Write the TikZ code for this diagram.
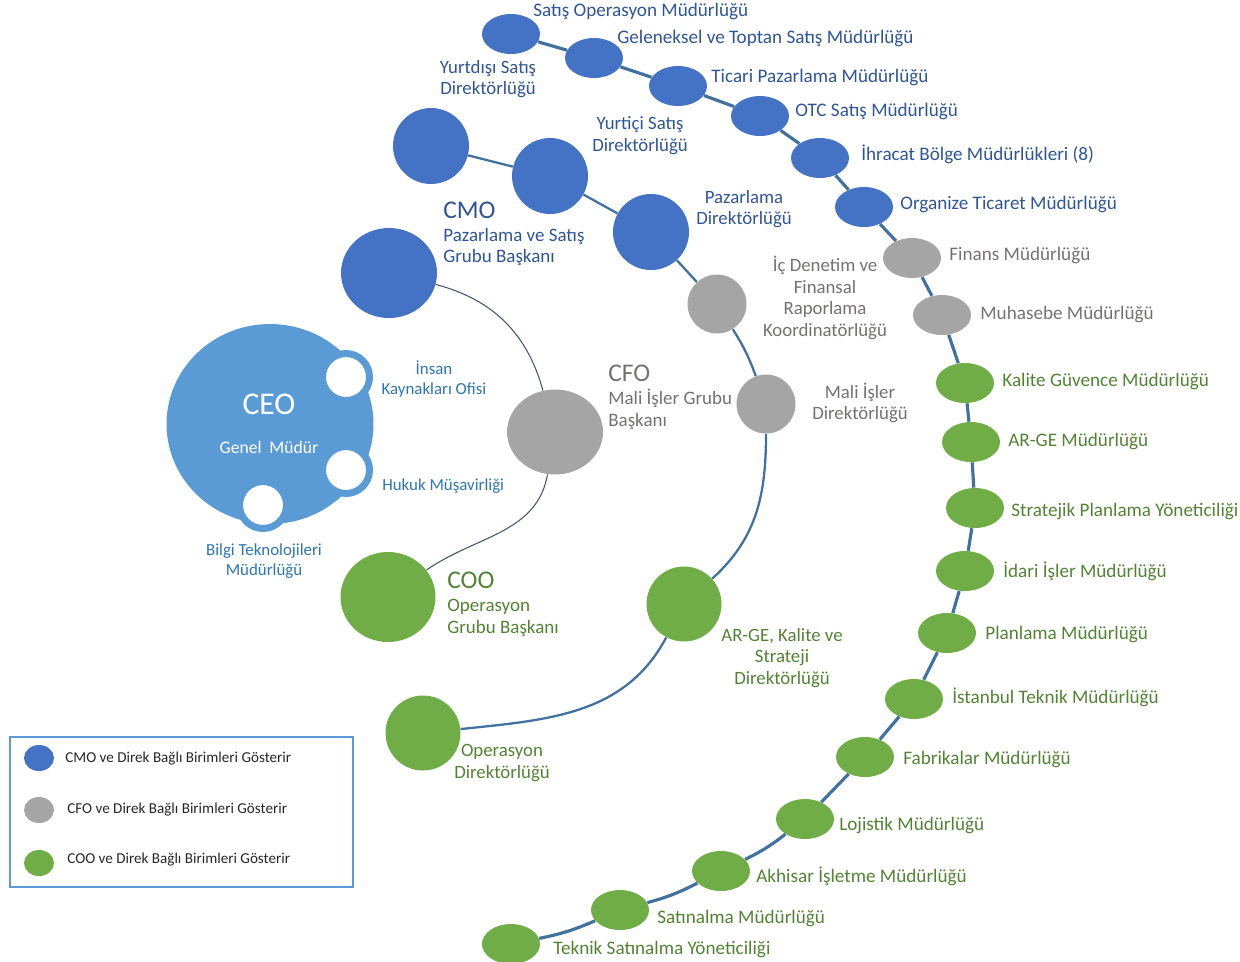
\documentclass[tikz,border=0pt]{standalone}
\usepackage{fontspec}
\setmainfont{Carlito}
\usetikzlibrary{shapes.geometric,positioning}

\definecolor{cmoblue}{HTML}{4472C4}
\definecolor{cfogray}{HTML}{A5A5A5}
\definecolor{coogreen}{HTML}{70AD47}
\definecolor{ceoblue}{HTML}{5B9BD5}
\definecolor{linkblue}{HTML}{41719C}
\definecolor{thinline}{HTML}{44546A}
\definecolor{cmotext}{HTML}{2F5597}
\definecolor{cfotext}{HTML}{767171}
\definecolor{cootext}{HTML}{548235}
\definecolor{ceotext}{HTML}{2E75B6}

\begin{document}
\begin{tikzpicture}[x=0.02cm,y=-0.02cm,
  unit/.style={ellipse,inner sep=0pt,minimum width=1.16cm,minimum height=0.8cm},
  dept/.style={circle,inner sep=0pt,minimum size=#1},
  dept/.default=1.52cm,
  head/.style={ellipse,inner sep=0pt,minimum width=1.92cm,minimum height=1.8cm},
  ring/.style={circle,fill=white,draw=ceoblue,line width=0.14cm,minimum size=0.94cm,inner sep=0pt},
  unitlabel/.style={anchor=west,inner sep=0pt,text height=1.5ex,text depth=.25ex,font=\fontsize{10.9}{12.5}\selectfont},
  deptlabel/.style={align=center,inner sep=0pt,font=\fontsize{10.7}{12.4}\selectfont},
  headtitle/.style={anchor=west,inner sep=0pt,font=\fontsize{14.5}{16}\selectfont},
  headsub/.style={anchor=west,align=left,inner sep=0pt,font=\fontsize{10.8}{12.4}\selectfont},
  ceolabel/.style={text=ceotext,inner sep=0pt,font=\fontsize{9.6}{11}\selectfont},
  legendtext/.style={anchor=west,inner sep=0pt,text=black!85,font=\fontsize{8.6}{10}\selectfont},
  link/.style={draw=linkblue,line width=1.8pt},
  sublink/.style={draw=linkblue,line width=1.3pt},
  thinlink/.style={draw=thinline,line width=0.6pt}]

\useasboundingbox (0,0) rectangle (1240,961);

% CEO and its offices
\node[ellipse,fill=ceoblue,minimum width=4.14cm,minimum height=4cm,inner sep=0pt] (ceo) at (270,424) {};
\node[text=white,inner sep=0pt,font=\fontsize{18}{20}\selectfont] (ceotitle) at (269,404) {CEO};
\node[text=white,inner sep=0pt,font=\fontsize{10}{12}\selectfont] (ceosub) at (269,447) {Genel\ \ Müdür};
\node[ring] (ik) at (346,377) {};
\node[ring] (hukuk) at (346,470) {};
\node[ring] (bilgi) at (263,505) {};
\node[ceolabel,align=center] (iklabel) at (434,379) {İnsan\\Kaynakları Ofisi};
\node[ceolabel,anchor=west,text height=1.5ex,text depth=.25ex] (hukuklabel) at (382,485) {Hukuk Müşavirliği};
\node[ceolabel,align=center] (bilgilabel) at (264,561) {Bilgi Teknolojileri\\Müdürlüğü};

% group heads
\node[head,fill=cmoblue] (cmo) at (389,273) {};
\node[head,fill=cfogray,minimum height=1.7cm] (cfo) at (555,432) {};
\node[head,fill=coogreen,minimum width=1.9cm,minimum height=1.8cm] (coo) at (388,597) {};
\node[headtitle,text=cmotext] (cmotitle) at (443,210) {CMO};
\node[headsub,text=cmotext] (cmosub) at (443,247) {Pazarlama ve Satış\\Grubu Başkanı};
\node[headtitle,text=cfotext] (cfotitle) at (608,373) {CFO};
\node[headsub,text=cfotext] (cfosub) at (608,409) {Mali İşler Grubu\\Başkanı};
\node[headtitle,text=cootext] (cootitle) at (447,580) {COO};
\node[headsub,text=cootext] (coosub) at (447,618) {Operasyon\\Grubu Başkanı};

% directorates
\node[dept,fill=cmoblue] (yds) at (431,146) {};
\node[dept,fill=cmoblue] (yic) at (550,176) {};
\node[dept,fill=cmoblue] (pzd) at (651,232) {};
\node[dept=1.18cm,fill=cfogray] (icd) at (717,304) {};
\node[dept=1.18cm,fill=cfogray] (mid) at (766,404) {};
\node[dept=1.5cm,fill=coogreen] (akd) at (684,604) {};
\node[dept=1.5cm,fill=coogreen] (opd) at (423,733) {};
\node[deptlabel,text=cmotext] (ydslabel) at (488,79) {Yurtdışı Satış\\Direktörlüğü};
\node[deptlabel,text=cmotext] (yiclabel) at (640,136) {Yurtiçi Satış\\Direktörlüğü};
\node[deptlabel,text=cmotext] (pzdlabel) at (744,209) {Pazarlama\\Direktörlüğü};
\node[deptlabel,text=cfotext] (icdlabel) at (825,298) {İç Denetim ve\\Finansal\\Raporlama\\Koordinatörlüğü};
\node[deptlabel,text=cfotext] (midlabel) at (860,403) {Mali İşler\\Direktörlüğü};
\node[deptlabel,text=cootext] (akdlabel) at (782,658) {AR-GE, Kalite ve\\Strateji\\Direktörlüğü};
\node[deptlabel,text=cootext] (opdlabel) at (502,763) {Operasyon\\Direktörlüğü};

% units
\node[unit,fill=cmoblue] (sop) at (511,34) {};
\node[unit,fill=cmoblue] (glt) at (594,58) {};
\node[unit,fill=cmoblue] (tic) at (678,86) {};
\node[unit,fill=cmoblue] (otc) at (760,116) {};
\node[unit,fill=cmoblue] (ihr) at (820,158) {};
\node[unit,fill=cmoblue] (org) at (864,207) {};
\node[unit,fill=cfogray] (fin) at (912,258) {};
\node[unit,fill=cfogray] (muh) at (942,315) {};
\node[unit,fill=coogreen] (kal) at (965,383) {};
\node[unit,fill=coogreen] (arg) at (971,442) {};
\node[unit,fill=coogreen] (str) at (975,508) {};
\node[unit,fill=coogreen] (ida) at (965,571) {};
\node[unit,fill=coogreen] (pla) at (947,633) {};
\node[unit,fill=coogreen] (ist) at (914,699) {};
\node[unit,fill=coogreen] (fab) at (865,757) {};
\node[unit,fill=coogreen] (loj) at (805,819) {};
\node[unit,fill=coogreen] (akh) at (721,871) {};
\node[unit,fill=coogreen] (sat) at (620,910) {};
\node[unit,fill=coogreen] (tek) at (511,944) {};

\node[unitlabel,text=cmotext] (soplabel) at (533,11) {Satış Operasyon Müdürlüğü};
\node[unitlabel,text=cmotext] (gltlabel) at (617,38) {Geleneksel ve Toptan Satış Müdürlüğü};
\node[unitlabel,text=cmotext] (ticlabel) at (711,77) {Ticari Pazarlama Müdürlüğü};
\node[unitlabel,text=cmotext] (otclabel) at (795,111) {OTC Satış Müdürlüğü};
\node[unitlabel,text=cmotext] (ihrlabel) at (861,155) {İhracat Bölge Müdürlükleri (8)};
\node[unitlabel,text=cmotext] (orglabel) at (900,204) {Organize Ticaret Müdürlüğü};
\node[unitlabel,text=cfotext] (finlabel) at (949,255) {Finans Müdürlüğü};
\node[unitlabel,text=cfotext] (muhlabel) at (980,314) {Muhasebe Müdürlüğü};
\node[unitlabel,text=cootext] (kallabel) at (1002,381) {Kalite Güvence Müdürlüğü};
\node[unitlabel,text=cootext] (arglabel) at (1008,441) {AR-GE Müdürlüğü};
\node[unitlabel,text=cootext] (strlabel) at (1011,511) {Stratejik Planlama Yöneticiliği};
\node[unitlabel,text=cootext] (idalabel) at (1003,572) {İdari İşler Müdürlüğü};
\node[unitlabel,text=cootext] (plalabel) at (985,634) {Planlama Müdürlüğü};
\node[unitlabel,text=cootext] (istlabel) at (952,698) {İstanbul Teknik Müdürlüğü};
\node[unitlabel,text=cootext] (fablabel) at (903,759) {Fabrikalar Müdürlüğü};
\node[unitlabel,text=cootext] (lojlabel) at (839,825) {Lojistik Müdürlüğü};
\node[unitlabel,text=cootext] (akhlabel) at (756,877) {Akhisar İşletme Müdürlüğü};
\node[unitlabel,text=cootext] (satlabel) at (657,918) {Satınalma Müdürlüğü};
\node[unitlabel,text=cootext] (teklabel) at (553,949) {Teknik Satınalma Yöneticiliği};

% connectors
\draw[thinlink] (cmo) to[bend left=30] (cfo);
\draw[thinlink] (cfo) to[out=-100,in=35] (coo);

\draw[sublink] (yds) -- (yic);
\draw[sublink] (yic) -- (pzd);
\draw[sublink] (pzd) -- (icd);
\draw[sublink] (icd) to[bend left=6] (mid);
\draw[sublink] (mid) to[out=-90,in=42] (akd);
\draw[sublink] (akd) to[out=-118,in=6] (opd);

\foreach \a/\b in {sop/glt,glt/tic,tic/otc,otc/ihr,ihr/org,org/fin,fin/muh,muh/kal,
  kal/arg,arg/str,str/ida,ida/pla,pla/ist,ist/fab,fab/loj}
  \draw[link] (\a) -- (\b);
\draw[link] (loj) to[bend left=6] (akh);
\draw[link] (akh) to[bend left=6] (sat);
\draw[link] (sat) to[bend left=6] (tek);

% legend
\draw[draw=ceoblue,line width=0.8pt] (10,737) rectangle (353,887);
\node[ellipse,fill=cmoblue,minimum width=0.6cm,minimum height=0.52cm,inner sep=0pt] (legcmo) at (39,758) {};
\node[ellipse,fill=cfogray,minimum width=0.6cm,minimum height=0.52cm,inner sep=0pt] (legcfo) at (39,810) {};
\node[ellipse,fill=coogreen,minimum width=0.6cm,minimum height=0.52cm,inner sep=0pt] (legcoo) at (39,863) {};
\node[legendtext] (legcmotext) at (65,759) {CMO ve Direk Bağlı Birimleri Gösterir};
\node[legendtext] (legcfotext) at (67,810) {CFO ve Direk Bağlı Birimleri Gösterir};
\node[legendtext] (legcootext) at (67,860) {COO ve Direk Bağlı Birimleri Gösterir};

\end{tikzpicture}
\end{document}
